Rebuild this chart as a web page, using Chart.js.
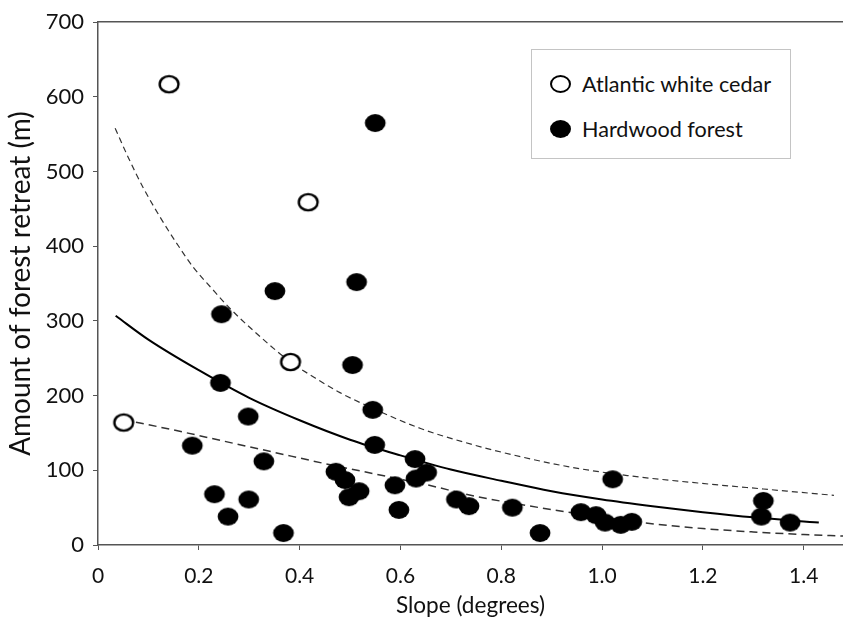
<!DOCTYPE html>
<html>
<head>
<meta charset="utf-8">
<script src="https://cdn.jsdelivr.net/npm/chart.js@4.4.1/dist/chart.umd.min.js"></script>
<style>
body { margin: 0; background: #fff; }
#wrap { position: relative; width: 843px; height: 624px; }
#chart { display: block; }
#legend { position: absolute; left: 531px; top: 49px; width: 258px; height: 108px; border: 1px solid #c4c4c4; background: #fff;
  font-family: Lato, sans-serif; font-size: 21.6px; color: #111; }
.item { position: absolute; left: 0; height: 26px; display: flex; align-items: center; white-space: nowrap; }
.mk { display: inline-block; box-sizing: border-box; width: 21px; height: 18px; border-radius: 50%; margin-left: 18px; margin-right: 11px; }
.open { border: 2.4px solid #000; background: #fff; }
.fill { background: #000; }
</style>
</head>
<body>
<div id="wrap">
  <canvas id="chart" width="843" height="624"></canvas>
  <div id="legend">
    <div class="item" style="top:21px"><span class="mk open"></span>Atlantic white cedar</div>
    <div class="item" style="top:66px"><span class="mk fill"></span>Hardwood forest</div>
  </div>
</div>
<script>
// tick values
const xTicks = [0, 0.2, 0.4, 0.6, 0.8, 1.0, 1.2, 1.4]
const yTicks = [0, 100, 200, 300, 400, 500, 600, 700]

// Atlantic white cedar (open circles)
const cedarX = [0.051, 0.141, 0.382, 0.417]
const cedarY = [164, 617, 245, 459]

// Hardwood forest (filled circles)
const hardX = [0.187, 0.231, 0.243, 0.245, 0.258, 0.298, 0.299, 0.329, 0.351, 0.368,
  0.472, 0.490, 0.498, 0.505, 0.513, 0.518, 0.545, 0.549, 0.550, 0.589,
  0.597, 0.629, 0.631, 0.652, 0.711, 0.736, 0.822, 0.877, 0.958, 0.988,
  1.006, 1.021, 1.037, 1.059, 1.316, 1.320, 1.373]
const hardY = [133, 68, 217, 309, 38, 172, 61, 112, 340, 16,
  98, 87, 64, 241, 352, 72, 181, 134, 565, 80,
  47, 115, 89, 97, 61, 52, 50, 16, 44, 40,
  30, 88, 27, 31, 38, 59, 30]

// fitted curve (solid)
const fitX = [0.035, 0.1, 0.2, 0.3, 0.4, 0.5, 0.6, 0.7, 0.8, 0.9, 1.0, 1.1, 1.2, 1.3, 1.43]
const fitY = [307, 275, 234, 197, 167, 141, 120, 101, 86, 72, 61, 52, 44, 37, 30]

// upper dashed band
const upperX = [0.034, 0.06, 0.09, 0.125, 0.16, 0.19, 0.225, 0.26, 0.31, 0.382, 0.43, 0.48, 0.545, 0.64, 0.74, 0.84, 0.94, 1.05, 1.19, 1.32, 1.46]
const upperY = [558, 519, 478, 437, 400, 371, 344, 318, 286, 245, 224, 204, 183, 156, 135, 118, 104, 93, 83, 75, 66.5]

// lower dashed band
const lowerX = [0.05, 0.15, 0.25, 0.35, 0.45, 0.55, 0.65, 0.75, 0.85, 0.95, 1.08, 1.2, 1.3, 1.4, 1.478]
const lowerY = [168, 154, 139, 124, 109, 95, 81, 65, 53, 42, 30, 22, 17.5, 14, 12]

const pts = (xs, ys) => xs.map((x, i) => ({x: x, y: ys[i]}))

// ellipse shaped markers, like the reference
function marker(filled) {
  const c = document.createElement('canvas')
  c.width = 24
  c.height = 22
  const g = c.getContext('2d')
  g.beginPath()
  if (filled) {
    g.ellipse(12, 11, 10.4, 9, 0, 0, Math.PI * 2)
    g.fillStyle = '#000'
    g.fill()
  } else {
    g.ellipse(12, 11, 9.4, 8.1, 0, 0, Math.PI * 2)
    g.fillStyle = '#fff'
    g.fill()
    g.lineWidth = 2.4
    g.strokeStyle = '#000'
    g.stroke()
  }
  return c
}

const axisColor = '#555'
const fam = 'Lato, sans-serif'

function curve(xs, ys, width, dash, color) {
  return {
    data: pts(xs, ys),
    showLine: true,
    pointRadius: 0,
    borderColor: color,
    borderWidth: width,
    borderDash: dash,
    cubicInterpolationMode: 'monotone',
    fill: false
  }
}

new Chart(document.getElementById('chart'), {
  type: 'scatter',
  data: {
    datasets: [
      {label: 'Atlantic white cedar', data: pts(cedarX, cedarY), pointStyle: marker(false), pointRadius: 10},
      {label: 'Hardwood forest', data: pts(hardX, hardY), pointStyle: marker(true), pointRadius: 10},
      curve(fitX, fitY, 2, [], '#000'),
      curve(upperX, upperY, 1.2, [6, 4], '#333'),
      curve(lowerX, lowerY, 1.5, [8, 5], '#333')
    ]
  },
  options: {
    responsive: false,
    animation: false,
    layout: {autoPadding: false, padding: {top: 20, right: 0, left: 0, bottom: 0}},
    plugins: {legend: {display: false}, tooltip: {enabled: false}},
    scales: {
      x: {
        type: 'linear', min: 0, max: 1.478,
        afterFit: s => { s.height = 79; s.paddingLeft = 0; s.paddingRight = 0 },
        afterBuildTicks: s => { s.ticks = xTicks.map(v => ({value: v})) },
        ticks: {callback: v => v === 0 ? '0' : v.toFixed(1), font: {family: fam, size: 21}, color: '#111', padding: 14, maxRotation: 0, autoSkip: false},
        grid: {drawOnChartArea: false, tickLength: 5, color: axisColor},
        border: {color: axisColor, width: 1.5},
        title: {display: true, text: 'Slope (degrees)', font: {family: fam, size: 22.6}, color: '#111', padding: {top: 0, bottom: 5}}
      },
      x2: {
        type: 'linear', position: 'top', min: 0, max: 1.478,
        afterFit: s => { s.height = 0; s.paddingLeft = 0; s.paddingRight = 0 },
        ticks: {display: false},
        grid: {display: false, drawTicks: false},
        border: {color: axisColor, width: 1.5}
      },
      y: {
        min: 0, max: 700,
        afterFit: s => { s.width = 98 },
        afterBuildTicks: s => { s.ticks = yTicks.map(v => ({value: v})) },
        ticks: {font: {family: fam, size: 22}, color: '#111', padding: 9},
        grid: {drawOnChartArea: false, tickLength: 5, color: axisColor},
        border: {color: axisColor, width: 1.5},
        title: {display: true, text: 'Amount of forest retreat (m)', font: {family: fam, size: 28}, color: '#111', padding: {top: 4, bottom: 0}}
      }
    }
  }
})
</script>
</body>
</html>
